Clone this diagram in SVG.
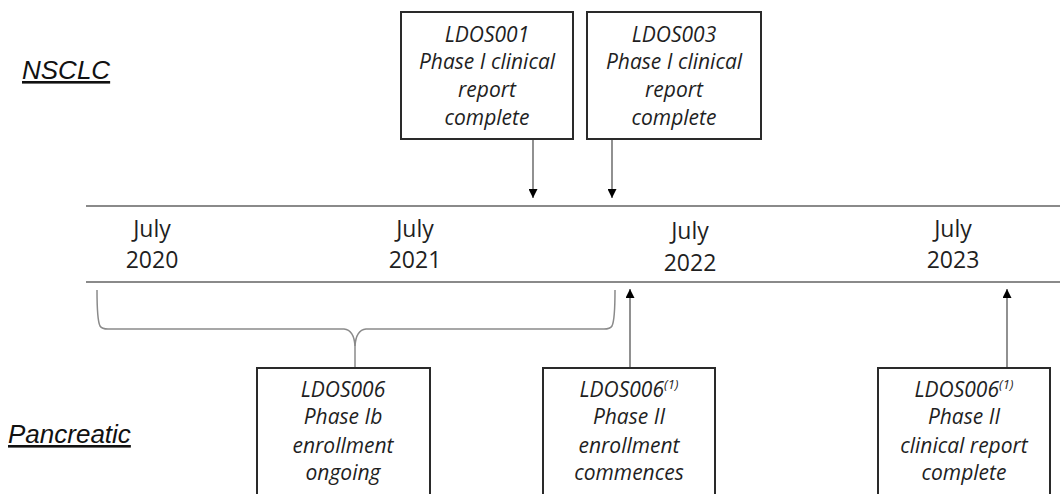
<svg xmlns="http://www.w3.org/2000/svg" width="1060" height="494" viewBox="0 0 1060 494">
  <defs>
    <marker id="ah" viewBox="0 0 10 10" refX="10" refY="5" markerWidth="9" markerHeight="9" markerUnits="userSpaceOnUse" orient="auto">
      <path d="M0,0 L10,5 L0,10 Z" fill="#000"/>
    </marker>
    <style>
      .box { fill: #fff; stroke: #2a2a2a; stroke-width: 2; }
      .bt { font-family: "Open Sans", "Liberation Sans", sans-serif; font-style: italic; font-size: 21px; fill: #1f1f1f; text-anchor: middle; }
      .sup { font-size: 13px; }
      .tl { font-family: "Open Sans", "Liberation Sans", sans-serif; font-size: 23px; fill: #1f1f1f; text-anchor: middle; }
      .axis { stroke: #8a8a8a; stroke-width: 2; fill: none; }
      .conn { stroke: #555; stroke-width: 1.3; fill: none; }
      .brace { stroke: #8a8a8a; stroke-width: 1.5; fill: none; }
      .cat { font-family: "Liberation Sans", Arial, sans-serif; font-style: italic; font-size: 26px; fill: #111; text-decoration: underline; }
    </style>
  </defs>
  <rect width="1060" height="494" fill="#fff"/>

  <g id="labels">
    <text class="cat" x="22" y="79">NSCLC</text>
    <text class="cat" x="8" y="443">Pancreatic</text>
  </g>

  <g id="timeline">
    <line class="axis" x1="86" y1="206" x2="1060" y2="206"/>
    <line class="axis" x1="86" y1="282" x2="1060" y2="282"/>
    <text class="tl" x="152" y="237">July</text>
    <text class="tl" x="152" y="268">2020</text>
    <text class="tl" x="415" y="237">July</text>
    <text class="tl" x="415" y="268">2021</text>
    <text class="tl" x="690" y="239">July</text>
    <text class="tl" x="690" y="271">2022</text>
    <text class="tl" x="953" y="237">July</text>
    <text class="tl" x="953" y="268">2023</text>
  </g>

  <g id="connectors">
    <line class="conn" x1="533" y1="139" x2="533" y2="198" marker-end="url(#ah)"/>
    <line class="conn" x1="612" y1="139" x2="612" y2="198" marker-end="url(#ah)"/>
    <line class="conn" x1="630" y1="368" x2="630" y2="289" marker-end="url(#ah)"/>
    <line class="conn" x1="1007" y1="368" x2="1007" y2="289" marker-end="url(#ah)"/>
    <path class="brace" d="M97,290 C97,306 98,322 100,326 Q102,329 108,329 L344,329 Q354,330 355,346 L355,368"/>
    <path class="brace" d="M615,290 C615,306 614,322 612,326 Q610,329 604,329 L366,329 Q356,330 355,346"/>
  </g>

  <g id="node-ldos001">
    <rect class="box" x="401" y="12" width="172" height="127"/>
    <text class="bt" x="487" y="42">LDOS001</text>
    <text class="bt" x="487" y="69">Phase I clinical</text>
    <text class="bt" x="487" y="97">report</text>
    <text class="bt" x="487" y="125">complete</text>
  </g>

  <g id="node-ldos003">
    <rect class="box" x="587" y="12" width="174" height="127"/>
    <text class="bt" x="674" y="42">LDOS003</text>
    <text class="bt" x="674" y="69">Phase I clinical</text>
    <text class="bt" x="674" y="97">report</text>
    <text class="bt" x="674" y="125">complete</text>
  </g>

  <g id="node-ldos006-ib">
    <rect class="box" x="257" y="368" width="173" height="140"/>
    <text class="bt" x="343" y="397">LDOS006</text>
    <text class="bt" x="343" y="424">Phase Ib</text>
    <text class="bt" x="343" y="453">enrollment</text>
    <text class="bt" x="343" y="480">ongoing</text>
  </g>

  <g id="node-ldos006-ii-enroll">
    <rect class="box" x="543" y="368" width="172" height="140"/>
    <text class="bt" x="629" y="397">LDOS006<tspan class="sup" dy="-8">(1)</tspan></text>
    <text class="bt" x="629" y="424">Phase II</text>
    <text class="bt" x="629" y="453">enrollment</text>
    <text class="bt" x="629" y="480">commences</text>
  </g>

  <g id="node-ldos006-ii-report">
    <rect class="box" x="878" y="368" width="172" height="140"/>
    <text class="bt" x="964" y="397">LDOS006<tspan class="sup" dy="-8">(1)</tspan></text>
    <text class="bt" x="964" y="424">Phase II</text>
    <text class="bt" x="964" y="453">clinical report</text>
    <text class="bt" x="964" y="480">complete</text>
  </g>
</svg>
